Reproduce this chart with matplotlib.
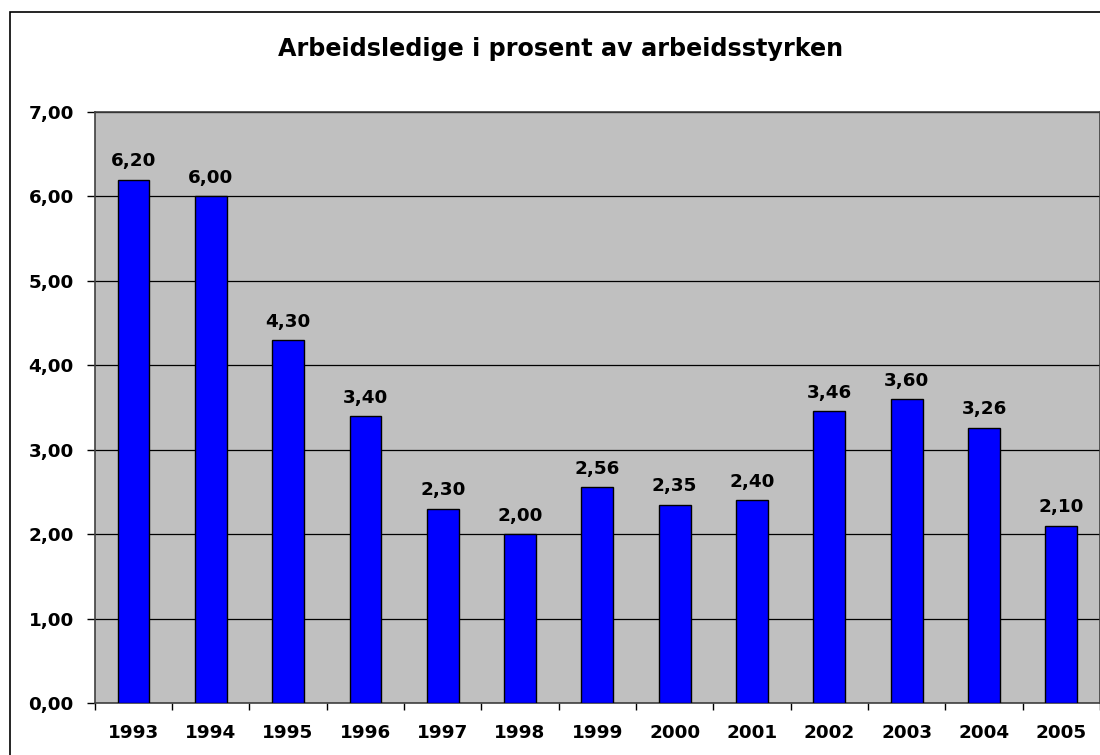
import matplotlib
matplotlib.use("Agg")
import matplotlib.pyplot as plt
from matplotlib.patches import Rectangle
import numpy as np

years = ["1993", "1994", "1995", "1996", "1997", "1998", "1999",
         "2000", "2001", "2002", "2003", "2004", "2005"]
values = [6.20, 6.00, 4.30, 3.40, 2.30, 2.00, 2.56, 2.35, 2.40, 3.46, 3.60, 3.26, 2.10]
yticks = [0, 1, 2, 3, 4, 5, 6, 7]
title = "Arbeidsledige i prosent av arbeidsstyrken"

plt.rcParams['font.family'] = ['DejaVu Sans']
plt.rcParams['font.weight'] = 'bold'

W, H = 1100, 755
fig = plt.figure(figsize=(W / 100, H / 100), dpi=100)
fig.patch.set_facecolor('white')

# outer chart frame (right/bottom edges fall outside the picture)
fig.patches.append(Rectangle((10 / W, -0.1), 2.0, 1 - 12 / H + 0.1,
                             transform=fig.transFigure, fill=False,
                             edgecolor='black', linewidth=1.2))

ax = fig.add_axes([94.7 / W, 1 - 703 / H, (1100 - 94.7) / W, (703 - 112) / H])
ax.set_facecolor('#C0C0C0')

x = np.arange(len(years))
ax.bar(x, values, width=0.41, color='#0000FF', edgecolor='black', linewidth=1.0, zorder=3)

for xi, v in zip(x, values):
    ax.annotate(f"{v:.2f}".replace('.', ','), (xi, v), xytext=(0, 9.6),
                textcoords='offset points', ha='center', va='baseline',
                fontsize=13.2, fontweight='bold')

ax.set_xlim(-0.5, len(years) - 0.5)
ax.set_ylim(0, 7)
ax.set_yticks(yticks)
ax.set_yticklabels([f"{t:.2f}".replace('.', ',') for t in yticks])
ax.yaxis.grid(True, color='black', linewidth=0.9, zorder=1)
ax.set_axisbelow(True)

ax.set_xticks(x)
ax.set_xticklabels(years)
ax.set_xticks(np.arange(-0.5, len(years), 1.0), minor=True)
ax.tick_params(axis='x', which='major', length=0, pad=15, labelsize=13.2)
ax.tick_params(axis='x', which='minor', length=5, width=1, direction='out', color='black')
ax.tick_params(axis='y', length=6, width=1, pad=9, labelsize=13.2)
for lab in ax.get_xticklabels() + ax.get_yticklabels():
    lab.set_fontweight('bold')

for s in ax.spines.values():
    s.set_color('#404040')
    s.set_linewidth(1.2)

fig.text(561 / W, 1 - 56 / H, title, ha='center', va='baseline',
         fontsize=17.2, fontweight='bold')

fig.savefig("out.png", dpi=100)
